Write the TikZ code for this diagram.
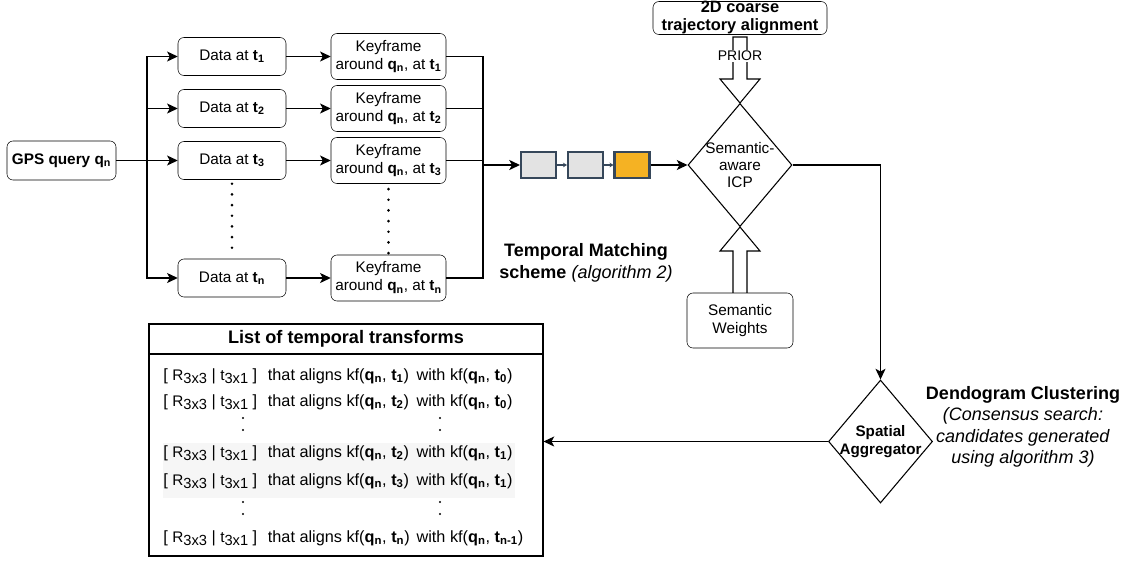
\documentclass[tikz,border=0pt]{standalone}
\usepackage{fontspec}
\setmainfont{Liberation Sans}
\usepackage{xcolor}
\usepackage{tikz}
\usetikzlibrary{shapes.geometric, arrows.meta, positioning, calc}

\definecolor{slate}{HTML}{36475A}
\definecolor{sqgray}{HTML}{E3E3E3}
\definecolor{sqorange}{HTML}{F5B223}
\definecolor{bandgray}{HTML}{F6F6F6}

\newcommand{\rsub}[1]{\raisebox{-2.4pt}{\fontsize{11}{12}\selectfont #1}}
\newcommand{\rsym}[1]{{\fontsize{11.5}{14}\selectfont #1}}
\newcommand{\tfrow}[2]{\makebox[78.5pt][l]{[ \rsym{R}\rsub{3x3} | \rsym{t}\rsub{3x1} ]}\makebox[111.5pt][l]{that aligns kf(\textbf{q\textsubscript{n}}, \textbf{t\textsubscript{#1}})}with kf(\textbf{q\textsubscript{n}}, \textbf{t\textsubscript{#2}})}

\begin{document}
\begin{tikzpicture}[x=0.75pt, y=-0.75pt,
  box/.style={draw, rounded corners=4.5pt, align=center, inner sep=0.5pt,
              font=\fontsize{11.5}{13.5}\selectfont, fill=white},
  databox/.style={box, minimum width=81pt, minimum height=28.5pt},
  kfbox/.style={box, minimum width=86.25pt, minimum height=34.5pt},
  sq/.style={draw=slate, line width=1.8pt, fill=sqgray, minimum width=26pt,
             minimum height=19.2pt, inner sep=0pt},
  decision/.style={draw, diamond, minimum width=78pt, minimum height=92.25pt,
                   inner sep=0pt, line width=0.8pt},
  arr/.style={-{Stealth[length=8pt, width=7.5pt, inset=2pt]}, line width=0.8pt},
  minarr/.style={-{Stealth[length=3pt, width=3.5pt]}, draw=slate, line width=1.3pt},
  blockarr/.style={draw, fill=white, line width=0.8pt},
  vdotline/.style={line width=2.2pt, dash pattern=on 0pt off 8pt, line cap=round},
  listdots/.style={line width=1.7pt, dash pattern=on 0pt off 9pt, line cap=round},
  heading/.style={align=center, font=\fontsize{13.5}{16}\selectfont},
  row/.style={anchor=west, inner sep=0pt, font=\fontsize{12.2}{14}\selectfont},
]
\useasboundingbox (0,0) rectangle (1125,562);

% GPS query and data per time step
\node[box, font=\bfseries\fontsize{11.5}{13.5}\selectfont, minimum width=81.75pt,
      minimum height=29.25pt] (gps) at (61.5,160.5) {GPS query q\textsubscript{n}};
\node[databox] (d1) at (232,56.5) {Data at \textbf{t\textsubscript{1}}};
\node[databox] (d2) at (232,108.5) {Data at \textbf{t\textsubscript{2}}};
\node[databox] (d3) at (232,160.5) {Data at \textbf{t\textsubscript{3}}};
\node[databox] (dn) at (232,278) {Data at \textbf{t\textsubscript{n}}};
\draw[vdotline, shorten <=3pt, shorten >=1pt] (d3.south) -- (dn.north);

\coordinate (split) at (147,160.5);
\draw[line width=1.2pt] (gps.east) -- (split);
\draw[arr] (split) |- (d1.west);
\draw[arr] (split) |- (d2.west);
\draw[arr] (split) -- (d3.west);
\draw[arr] (split) |- (dn.west);

% Keyframes
\node[kfbox] (k1) at (388.5,56.5) {Keyframe\\around \textbf{q\textsubscript{n}}, at \textbf{t\textsubscript{1}}};
\node[kfbox] (k2) at (388.5,108.5) {Keyframe\\around \textbf{q\textsubscript{n}}, at \textbf{t\textsubscript{2}}};
\node[kfbox] (k3) at (388.5,160.5) {Keyframe\\around \textbf{q\textsubscript{n}}, at \textbf{t\textsubscript{3}}};
\node[kfbox] (kn) at (388.5,278) {Keyframe\\around \textbf{q\textsubscript{n}}, at \textbf{t\textsubscript{n}}};
\draw[vdotline, shorten <=4pt, shorten >=1pt] (k3.south) -- (kn.north);

\draw[arr] (d1.east) -- (k1.west);
\draw[arr] (d2.east) -- (k2.west);
\draw[arr] (d3.east) -- (k3.west);
\draw[arr] (dn.east) -- (kn.west);

% Temporal matching chain
\coordinate (merge) at (483,165);
\draw[line width=0.8pt] (k1.east) -| (merge);
\draw[line width=0.8pt] (k2.east) -| (merge);
\draw[line width=0.8pt] (k3.east) -| (merge);
\draw[line width=0.8pt] (kn.east) -| (merge);

\node[sq] (sq1) at (538.5,165) {};
\node[sq] (sq2) at (585.5,165) {};
\node[sq, fill=sqorange] (sq3) at (632,165) {};
\draw[arr, line width=1.3pt] (merge) -- (sq1.west);
\draw[minarr] (sq1.east) -- (sq2.west);
\draw[minarr] (sq2.east) -- (sq3.west);

\node[heading] (tmlabel) at (586,263) {\textbf{Temporal Matching}\\\textbf{scheme} \textit{(algorithm 2)}};

% Semantic-aware ICP
\node[decision, label={[align=center, font=\fontsize{11.5}{12.8}\selectfont]center:{Semantic-\\aware\\ICP}}] (icp) at (740,165) {};
\draw[arr, line width=1.1pt] (sq3.east) -- (icp.west);

\node[box, font=\bfseries\fontsize{12.3}{13.5}\selectfont, minimum width=130.5pt,
      minimum height=24.75pt, inner sep=0pt] (coarse) at (740,18) {2D coarse\\trajectory alignment};
\draw[blockarr] (733,37) -- (733,79) -- (720,79) -- (icp.north) -- (760,79) -- (747,79) -- (747,37) -- cycle;
\node[fill=white, inner sep=0.5pt, font=\fontsize{10.5}{12}\selectfont] (prior) at (740,56) {PRIOR};

\draw[blockarr] (733,294) -- (733,251) -- (720,251) -- (icp.south) -- (760,251) -- (747,251) -- (747,294) -- cycle;
\node[box, minimum width=79.5pt, minimum height=41.25pt] (weights) at (740,320.5) {Semantic\\Weights};

% Spatial aggregation
\node[decision, label={[align=center, font=\bfseries\fontsize{11.4}{14}\selectfont]center:{Spatial\\Aggregator}}] (spatial) at (880.5,441.5) {};
\draw[arr] (icp.east) -| (spatial.north);

\node[heading] (dclabel) at (1023,427) {\textbf{Dendogram Clustering}\\\textit{(Consensus search:}\\\textit{candidates generated}\\\textit{using algorithm 3)}};

% List of temporal transforms
\node[draw, line width=0.8pt, minimum width=295.5pt, minimum height=174pt, inner sep=0pt] (tlist) at (346,440) {};
\node[draw, line width=0.8pt, anchor=north, minimum width=295.5pt, minimum height=22.5pt,
      font=\bfseries\fontsize{13.6}{15}\selectfont] (ttitle) at (tlist.north) {List of temporal transforms};
\fill[bandgray] (163,443) rectangle (515,498);
\node[row] (r1) at (163,376) {\tfrow{1}{0}};
\node[row] (r2) at (163,402) {\tfrow{2}{0}};
\node[row] (r3) at (163,453) {\tfrow{2}{1}};
\node[row] (r4) at (163,481) {\tfrow{3}{1}};
\node[row] (r5) at (163,538) {\tfrow{n}{n-1}};
\draw[listdots] (243,418) -- (243,442);
\draw[listdots] (440,418) -- (440,442);
\draw[listdots] (243,502) -- (243,526);
\draw[listdots] (440,502) -- (440,526);

\draw[arr] (spatial.west) -- (tlist.east |- spatial.west);
\end{tikzpicture}
\end{document}
